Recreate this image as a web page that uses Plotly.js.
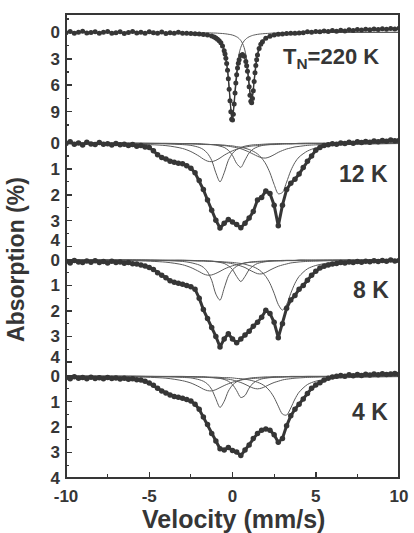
<!DOCTYPE html>
<html><head><meta charset="utf-8">
<script src="https://cdn.plot.ly/plotly-3.0.1.min.js"></script>
<style>html,body{margin:0;padding:0;background:#fff}#chart{width:414px;height:533px}</style>
</head><body><div id="chart"></div>
<script>
// ---- data (velocity mm/s, absorption %) ----
const vel = [-10,-9.75,-9.5,-9.25,-9,-8.75,-8.5,-8.25,-8,-7.75,-7.5,-7.25,-7,-6.75,-6.5,-6.25,-6,-5.75,-5.5,-5.25,-5,-4.75,-4.5,-4.25,-4,-3.75,-3.5,-3.25,-3,-2.75,-2.5,-2.25,-2,-1.75,-1.5,-1.25,-1,-0.75,-0.5,-0.25,0,0.25,0.5,0.75,1,1.25,1.5,1.75,2,2.25,2.5,2.75,3,3.25,3.5,3.75,4,4.25,4.5,4.75,5,5.25,5.5,5.75,6,6.25,6.5,6.75,7,7.25,7.5,7.75,8,8.25,8.5,8.75,9,9.25,9.5,9.75,10];

const vel220K = [-10,-9.75,-9.5,-9.25,-9,-8.75,-8.5,-8.25,-8,-7.75,-7.5,-7.25,-7,-6.75,-6.5,-6.25,-6,-5.75,-5.5,-5.25,-5,-4.75,-4.5,-4.25,-4,-3.75,-3.5,-3.25,-3,-2.75,-2.5,-2.25,-2,-1.75,-1.5,-1.25,
 -1.1,-1,-0.9,-0.8,-0.7,-0.6,-0.5,-0.45,-0.4,-0.35,-0.3,-0.25,-0.2,-0.15,-0.1,-0.05,0,0.05,0.1,0.15,0.2,0.25,0.3,0.35,0.4,0.5,0.6,0.7,0.8,0.85,0.9,0.95,1,1.05,1.1,1.15,1.2,1.25,1.3,1.35,1.4,1.45,1.5,1.6,1.7,1.8,2,
 2.25,2.5,2.75,3,3.25,3.5,3.75,4,4.25,4.5,4.75,5,5.25,5.5,5.75,6,6.25,6.5,6.75,7,7.25,7.5,7.75,8,8.25,8.5,8.75,9,9.25,9.5,9.75,10];
const abs220K = [0.05,-0.1,0.1,0.0,-0.12,0.08,0.02,-0.05,0.12,0.0,-0.08,0.1,0.05,-0.05,0.15,0.02,-0.1,0.08,0.0,0.12,-0.05,0.06,0.1,-0.02,0.15,0.05,0.1,0.0,0.1,0.12,0.15,0.17,0.2,0.25,0.32,0.42,
 0.54,0.64,0.78,0.95,1.2,1.56,2.1,2.47,2.95,3.55,4.31,5.28,6.45,7.75,9.0,9.85,9.95,9.29,8.14,6.89,5.74,4.8,4.06,3.51,3.11,2.64,2.51,2.71,3.3,3.78,4.42,5.23,6.18,7.14,7.82,7.98,7.51,6.62,5.57,4.59,3.77,3.1,2.58,1.84,1.37,1.06,0.69,
 0.45,0.32,0.23,0.19,0.15,0.12,0.1,0.08,0.05,-0.05,0.0,-0.1,-0.05,-0.15,-0.08,-0.2,-0.12,-0.22,-0.15,-0.28,-0.2,-0.3,-0.25,-0.35,-0.28,-0.38,-0.3,-0.4,-0.35,-0.42,-0.38,-0.45];

const abs12K = [0.02,-0.05,0.05,0.0,0.08,-0.03,0.04,0.06,-0.02,0.05,0.03,0.08,0.02,0.07,0.05,0.1,0.06,0.12,0.1,0.15,0.17,0.3,0.45,0.56,0.62,0.7,0.74,0.78,0.8,0.88,0.97,1.15,1.45,1.8,2.2,2.6,2.98,3.28,3.1,2.95,3.05,3.15,3.27,3.1,2.9,2.65,2.2,2.1,1.85,1.95,2.4,3.2,2.4,1.8,1.55,1.4,1.2,0.95,0.7,0.5,0.28,0.17,0.1,0.07,0.03,0.05,0.0,0.02,-0.03,0.01,-0.05,-0.02,-0.06,-0.03,-0.08,-0.05,-0.1,-0.07,-0.12,-0.09,-0.1];
const abs8K = [0.05,0.12,0.02,0.08,0.1,0.04,0.09,0.03,0.1,0.06,0.12,0.05,0.1,0.08,0.13,0.1,0.15,0.16,0.2,0.24,0.3,0.38,0.5,0.6,0.7,0.82,0.88,0.92,0.96,1.0,1.05,1.15,1.5,1.95,2.3,2.65,3.0,3.42,3.1,2.9,3.1,3.25,3.1,2.95,2.8,2.6,2.45,2.25,1.98,2.1,2.45,3.05,2.5,1.9,1.57,1.4,1.15,1.0,0.8,0.6,0.45,0.32,0.25,0.2,0.16,0.14,0.1,0.12,0.08,0.1,0.06,0.09,0.05,0.07,0.03,0.06,0.02,0.05,0.0,0.04,0.02];
const abs4K = [0.05,0.1,0.02,0.08,0.05,0.1,0.04,0.09,0.06,0.1,0.05,0.09,0.07,0.11,0.08,0.12,0.1,0.14,0.15,0.2,0.27,0.36,0.48,0.58,0.66,0.74,0.8,0.83,0.87,0.92,0.98,1.1,1.3,1.6,1.9,2.25,2.55,2.85,2.9,2.8,2.92,2.98,3.12,2.9,2.7,2.45,2.25,2.12,2.08,2.12,2.3,2.6,2.45,1.95,1.56,1.3,1.1,0.9,0.68,0.48,0.35,0.26,0.15,0.08,0.03,0.0,-0.03,0.0,-0.05,-0.02,-0.06,-0.03,-0.07,-0.04,-0.08,-0.05,-0.09,-0.06,-0.08,-0.1,-0.07];

// ---- fitted sub-spectra (thin lines) ----
const fitVel220K = [-10,-4,-3,-2,-1.5,-1.25,-1,-0.8,-0.6,-0.5,-0.4,-0.3,-0.2,-0.1,0,0.1,0.2,0.3,0.4,0.5,0.6,0.7,0.8,0.9,1.0,1.1,1.15,1.2,1.3,1.4,1.5,1.6,1.8,2.0,2.5,3,4,10];
const fit220K_A = [0.01,0.03,0.06,0.14,0.25,0.36,0.55,0.84,1.42,1.94,2.77,4.11,6.21,8.73,9.63,7.76,5.27,3.49,2.39,1.70,1.26,0.97,0.77,0.62,0.51,0.43,0.39,0.36,0.31,0.27,0.24,0.21,0.17,0.14,0.09,0.06,0.03,0.01];
const fit220K_B = [0.00,0.02,0.03,0.04,0.06,0.08,0.09,0.12,0.14,0.16,0.18,0.21,0.24,0.27,0.32,0.38,0.47,0.57,0.72,0.94,1.25,1.74,2.53,3.80,5.67,7.39,7.59,7.15,5.26,3.50,2.34,1.63,0.89,0.55,0.23,0.13,0.05,0.01];

const fitVel = [-10,-6,-4,-3,-2.5,-2,-1.75,-1.5,-1.25,-1,-0.75,-0.5,-0.25,0,0.25,0.5,0.75,1,1.25,1.5,1.75,2,2.25,2.5,2.75,3,3.25,3.5,3.75,4,4.5,5,6,10];
const fit12K_A = [0,0.01,0.03,0.06,0.09,0.17,0.25,0.40,0.67,1.15,1.50,1.15,0.67,0.40,0.25,0.17,0.12,0.09,0.07,0.06,0.05,0.04,0.03,0.03,0.02,0.02,0.02,0.02,0.02,0.01,0.01,0.01,0.01,0];
const fit12K_B = [0,0.01,0.01,0.02,0.02,0.03,0.04,0.05,0.06,0.08,0.12,0.17,0.28,0.48,0.79,0.94,0.66,0.38,0.23,0.15,0.10,0.07,0.06,0.04,0.04,0.03,0.02,0.02,0.02,0.02,0.01,0.01,0.01,0];
const fit12K_C = [0.01,0.01,0.02,0.03,0.03,0.04,0.05,0.05,0.06,0.06,0.07,0.08,0.10,0.11,0.14,0.16,0.20,0.25,0.32,0.42,0.58,0.81,1.15,1.60,1.96,1.91,1.51,1.07,0.75,0.54,0.31,0.19,0.09,0.02];
const fit12K_D = [0.01,0.04,0.10,0.21,0.33,0.51,0.62,0.70,0.72,0.67,0.58,0.47,0.38,0.30,0.24,0.20,0.16,0.13,0.11,0.10,0.08,0.07,0.06,0.06,0.05,0.04,0.04,0.04,0.03,0.03,0.03,0.02,0.02,0.01];
const fit12K_E = [0.01,0.01,0.02,0.03,0.03,0.04,0.05,0.06,0.06,0.07,0.09,0.10,0.12,0.15,0.18,0.22,0.28,0.35,0.43,0.51,0.57,0.58,0.53,0.45,0.36,0.29,0.23,0.19,0.15,0.13,0.09,0.07,0.04,0.01];

const fit8K_A = [0,0.01,0.03,0.06,0.11,0.20,0.29,0.47,0.80,1.34,1.58,1.11,0.64,0.39,0.25,0.17,0.12,0.09,0.07,0.06,0.05,0.04,0.03,0.03,0.03,0.02,0.02,0.02,0.02,0.01,0.01,0.01,0.01,0];
const fit8K_B = [0,0,0.01,0.01,0.02,0.03,0.03,0.04,0.05,0.07,0.10,0.14,0.23,0.38,0.65,0.85,0.65,0.38,0.23,0.14,0.10,0.07,0.05,0.04,0.03,0.03,0.02,0.02,0.02,0.01,0.01,0.01,0.01,0];
const fit8K_C = [0.01,0.01,0.02,0.03,0.03,0.04,0.04,0.05,0.05,0.06,0.07,0.08,0.09,0.10,0.12,0.14,0.17,0.22,0.27,0.35,0.47,0.65,0.92,1.31,1.75,1.97,1.75,1.31,0.92,0.65,0.35,0.22,0.10,0.02];
const fit8K_D = [0.01,0.03,0.09,0.19,0.30,0.46,0.55,0.60,0.59,0.53,0.45,0.36,0.29,0.23,0.19,0.15,0.12,0.10,0.09,0.08,0.07,0.06,0.05,0.04,0.04,0.04,0.03,0.03,0.03,0.02,0.02,0.02,0.01,0.01];
const fit8K_E = [0,0.01,0.02,0.02,0.03,0.04,0.04,0.05,0.06,0.07,0.08,0.10,0.12,0.15,0.19,0.24,0.30,0.39,0.47,0.54,0.55,0.49,0.40,0.32,0.25,0.20,0.16,0.12,0.10,0.08,0.06,0.05,0.03,0.01];

const fit4K_A = [0,0.01,0.02,0.05,0.07,0.14,0.20,0.31,0.52,0.89,1.23,0.99,0.59,0.35,0.22,0.15,0.11,0.08,0.06,0.05,0.04,0.03,0.03,0.02,0.02,0.02,0.02,0.01,0.01,0.01,0.01,0.01,0.01,0];
const fit4K_B = [0,0,0.01,0.01,0.02,0.03,0.03,0.04,0.05,0.07,0.09,0.13,0.20,0.33,0.57,0.84,0.76,0.47,0.27,0.17,0.11,0.08,0.06,0.05,0.04,0.03,0.02,0.02,0.02,0.02,0.01,0.01,0.01,0];
const fit4K_C = [0,0.01,0.02,0.02,0.02,0.03,0.03,0.04,0.04,0.04,0.05,0.06,0.06,0.07,0.09,0.10,0.12,0.15,0.19,0.24,0.31,0.42,0.59,0.84,1.18,1.49,1.53,1.25,0.90,0.63,0.33,0.20,0.09,0.02];
const fit4K_D = [0.01,0.03,0.08,0.18,0.27,0.42,0.51,0.57,0.58,0.53,0.45,0.37,0.30,0.24,0.19,0.15,0.13,0.11,0.09,0.08,0.07,0.06,0.05,0.04,0.04,0.04,0.03,0.03,0.03,0.02,0.02,0.02,0.01,0.01];
const fit4K_E = [0,0.01,0.02,0.02,0.03,0.04,0.04,0.05,0.06,0.07,0.08,0.10,0.12,0.15,0.20,0.25,0.32,0.40,0.47,0.50,0.47,0.40,0.32,0.25,0.20,0.15,0.12,0.10,0.08,0.07,0.05,0.04,0.02,0.01];

const panelLabels = ['<b>T<sub>N</sub>=220 K</b>','<b>12 K</b>','<b>8 K</b>','<b>4 K</b>'];
const xTickVals = [-10,-5,0,5,10];
const xTickText = ['-10','-5','0','5','10'];
const yTickText220K = ['0','3','6','9'];
const yTickText = ['0','1','2','3','4'];
const yTitle = 'Absorption (%)';
const xTitle = 'Velocity (mm/s)';

// ---- build figure ----
const ink = '#363636';
const fitColor = '#5a5a5a';
const traces = [];
function fitTrace(x, y, ax) {
  return {x: x, y: y, yaxis: ax, xaxis: 'x', type: 'scatter', mode: 'lines',
          line: {color: fitColor, width: 1, shape: 'spline', smoothing: 0.8}, hoverinfo: 'skip'};
}
function dataTrace(x, y, ax, lw, ms) {
  return {x: x, y: y, yaxis: ax, xaxis: 'x', type: 'scatter', mode: 'lines+markers',
          line: {color: ink, width: lw}, marker: {color: ink, size: ms}, hoverinfo: 'skip'};
}
traces.push(fitTrace(fitVel220K, fit220K_A, 'y'));
traces.push(fitTrace(fitVel220K, fit220K_B, 'y'));
[fit12K_A, fit12K_B, fit12K_C, fit12K_D, fit12K_E].forEach(a => traces.push(fitTrace(fitVel, a, 'y2')));
[fit8K_A, fit8K_B, fit8K_C, fit8K_D, fit8K_E].forEach(a => traces.push(fitTrace(fitVel, a, 'y3')));
[fit4K_A, fit4K_B, fit4K_C, fit4K_D, fit4K_E].forEach(a => traces.push(fitTrace(fitVel, a, 'y4')));
traces.push(dataTrace(vel220K, abs220K, 'y', 1.3, 5));
traces.push(dataTrace(vel, abs12K, 'y2', 3, 5.5));
traces.push(dataTrace(vel, abs8K, 'y3', 3, 5.5));
traces.push(dataTrace(vel, abs4K, 'y4', 3, 5.5));

const tickFont = {family: 'Liberation Sans, Arial, sans-serif', size: 17, color: ink, weight: 700};
// axis carrying the tick marks
function yax(domain, range, vals, minorVals, labels) {
  return {domain: domain, range: range, anchor: 'x', tickmode: 'array', tickvals: vals,
          ticktext: labels || vals.map(String), showticklabels: !!labels,
          ticks: 'inside', ticklen: 6, tickwidth: 1.5, tickcolor: ink, tickfont: tickFont, ticklabelstandoff: 5,
          showgrid: false, zeroline: false, showline: false, fixedrange: true,
          minor: {tickmode: 'array', tickvals: minorVals, ticks: 'inside', ticklen: 3, tickwidth: 1.2, tickcolor: ink, showgrid: false}};
}
// overlay axis carrying only the labels (the bottom "4" sits a little higher, as in the print)
function ylab(over, range, vals) {
  return {overlaying: over, anchor: 'x', side: 'left', range: range, tickmode: 'array', tickvals: vals, ticktext: yTickText,
          ticks: '', tickfont: tickFont, ticklabelstandoff: 5, showgrid: false, zeroline: false, showline: false, fixedrange: true};
}
const layout = {
  width: 414, height: 533,
  margin: {l: 66, r: 15, t: 14, b: 55},
  paper_bgcolor: '#fff', plot_bgcolor: '#fff',
  showlegend: false,
  font: {family: 'Liberation Sans, Arial, sans-serif', color: ink},
  xaxis: {domain: [0, 1], range: [-10, 10], anchor: 'y4', tickmode: 'array', tickvals: xTickVals, ticktext: xTickText,
          ticks: 'inside', ticklen: 6, tickwidth: 1.5, tickcolor: ink, tickfont: tickFont, ticklabelstandoff: 6,
          showgrid: false, zeroline: false, showline: false,
          minor: {tickmode: 'array', tickvals: [-7.5, -2.5, 2.5, 7.5], ticks: 'inside', ticklen: 4, tickwidth: 1.2, tickcolor: ink, showgrid: false}},
  yaxis:  yax([0.7392, 1], [11.64, -2.07], [0, 3, 6, 9], [-1.5, 1.5, 4.5, 7.5, 10.5], yTickText220K),
  yaxis2: yax([0.4871, 0.7392], [4.21, -0.31], [0, 1, 2, 3, 4], [0.5, 1.5, 2.5, 3.5]),
  yaxis3: yax([0.2371, 0.4871], [4.24, -0.31], [0, 1, 2, 3, 4], [0.5, 1.5, 2.5, 3.5]),
  yaxis4: yax([0, 0.2371], [4.0, -0.32], [0, 1, 2, 3, 4], [0.5, 1.5, 2.5, 3.5], yTickText),
  yaxis5: ylab('y2', [4.21, -0.31], [0, 1, 2, 3, 3.76]),
  yaxis6: ylab('y3', [4.24, -0.31], [0, 1, 2, 3, 3.82]),
  shapes: [{type: 'rect', xref: 'paper', yref: 'paper', x0: 0, x1: 1, y0: 0, y1: 1,
            line: {color: ink, width: 2}, fillcolor: 'rgba(0,0,0,0)'}],
  annotations: [
    {text: '<b>' + yTitle + '</b>', xref: 'paper', yref: 'paper', x: -0.15, y: 0.47, textangle: -90,
     showarrow: false, xanchor: 'center', yanchor: 'middle', font: {size: 23, color: ink}},
    {text: '<b>' + xTitle + '</b>', xref: 'paper', yref: 'paper', x: 0.504, y: -0.088,
     showarrow: false, xanchor: 'center', yanchor: 'middle', font: {size: 25, color: ink}},
    {text: panelLabels[0], xref: 'x', yref: 'y', x: 5.9, y: 2.9, showarrow: false, xanchor: 'center', yanchor: 'middle', font: {size: 22, color: ink}},
    {text: panelLabels[1], xref: 'x', yref: 'y2', x: 7.84, y: 1.2, showarrow: false, xanchor: 'center', yanchor: 'middle', font: {size: 23, color: ink}},
    {text: panelLabels[2], xref: 'x', yref: 'y3', x: 8.32, y: 1.18, showarrow: false, xanchor: 'center', yanchor: 'middle', font: {size: 23, color: ink}},
    {text: panelLabels[3], xref: 'x', yref: 'y4', x: 8.26, y: 1.41, showarrow: false, xanchor: 'center', yanchor: 'middle', font: {size: 23, color: ink}}
  ]
};
// the overlay label axes need a (hidden) trace each to be drawn
traces.push({x: [null], y: [null], yaxis: 'y5', xaxis: 'x', type: 'scatter', mode: 'markers', hoverinfo: 'skip', showlegend: false});
traces.push({x: [null], y: [null], yaxis: 'y6', xaxis: 'x', type: 'scatter', mode: 'markers', hoverinfo: 'skip', showlegend: false});
Plotly.newPlot('chart', traces, layout, {staticPlot: true, displayModeBar: false});
</script>
</body></html>
